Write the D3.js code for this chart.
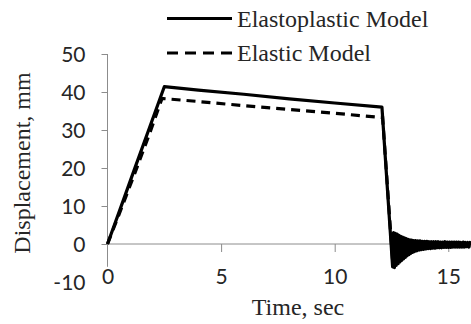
<!DOCTYPE html>
<html><head><meta charset="utf-8">
<script src="https://cdn.jsdelivr.net/npm/d3@7"></script>
<style>
html,body{margin:0;padding:0;background:#fff;}
svg{display:block;}
</style></head>
<body>
<svg id="chart" width="471" height="324"></svg>
<script>
// Elastoplastic Model (time s, displacement mm)
const elastoplasticT = [0, 0.6, 1.2, 1.8, 2.5, 4, 6, 8, 10, 12.08,
  12.55, 12.59, 12.63, 12.67, 12.71, 12.75, 12.79, 12.83, 12.87, 12.91, 12.95, 12.99, 13.03, 13.07, 13.11, 13.15, 13.19, 13.23, 13.27, 13.31, 13.35, 13.39, 13.43, 13.47, 13.51,
  13.56, 13.61, 13.66, 13.71, 13.76, 13.81, 13.86, 13.91, 13.96, 14.01, 14.06, 14.11, 14.16, 14.21, 14.26, 14.31, 14.36, 14.41, 14.46, 14.51,
  14.56, 14.61, 14.66, 14.71, 14.76, 14.81, 14.86, 14.91, 14.96, 15.01, 15.06, 15.11, 15.16, 15.21, 15.26, 15.31, 15.36, 15.41, 15.46, 15.51,
  15.56, 15.61, 15.66, 15.71, 15.76, 15.81, 15.86, 15.91, 15.96, 16.0];
const elastoplasticD = [0, 9.9, 19.9, 29.8, 41.4, 40.5, 39.4, 38.2, 37.1, 36.0,
  -6.0, 3.0, -6.2, 2.8, -5.6, 2.6, -5.2, 2.3, -4.7, 2.0, -4.3, 1.8, -3.9, 1.6, -3.5, 1.4, -3.1, 1.2, -2.8, 1.1, -2.5, 1.0, -2.2, 0.9, -2.0,
  0.9, -1.8, 0.8, -1.6, 0.8, -1.5, 0.7, -1.4, 0.7, -1.3, 0.7, -1.2, 0.6, -1.2, 0.6, -1.1, 0.6, -1.1, 0.6, -1.0,
  0.6, -1.0, 0.5, -1.0, 0.5, -0.9, 0.6, -0.9, 0.5, -0.9, 0.5, -0.9, 0.5, -0.8, 0.5, -0.8, 0.5, -0.8, 0.5, -0.8,
  0.4, -0.8, 0.5, -0.8, 0.4, -0.7, 0.4, -0.8, 0.4, -0.3];
// Elastic Model
const elasticT = [0, 0.6, 1.2, 1.8, 2.4, 4, 6, 8, 10, 11.85, 12.11, 12.55, 12.7, 12.85, 13.0, 13.2, 13.5];
const elasticD = [0, 9.2, 18.6, 28.2, 38.3, 37.5, 36.4, 35.4, 34.4, 33.4, 33.3, -4.5, 1.5, -2.5, 0.8, -1.0, 0.0];

const xTicks = [0, 5, 10, 15];
const yTicks = [-10, 0, 10, 20, 30, 40, 50];
const legendLabels = ["Elastoplastic Model", "Elastic Model"];

const svg = d3.select("#chart");
const x = d3.scaleLinear().domain([0, 16]).range([107.5, 471]);
const y = d3.scaleLinear().domain([-10, 50]).range([282, 54]);

const axisColor = "#8c8c8c";
const textColor = "#262626";
const numFont = "Lato, 'Open Sans', sans-serif";
const serif = "'Liberation Serif', 'Times New Roman', serif";

// y axis
const yAxis = svg.append("g").attr("transform", `translate(${x(0)},0)`)
  .call(d3.axisLeft(y).tickValues(yTicks).tickSize(6).tickSizeOuter(0).tickPadding(16).tickFormat(d => String(d)));
yAxis.select(".domain").remove();
yAxis.selectAll(".tick line").attr("stroke", axisColor).filter(d => d === -10).remove();
yAxis.selectAll(".tick text").attr("font-family", numFont).attr("font-size", 21).attr("fill", textColor).attr("dy", "0.36em");
svg.append("line").attr("x1", x(0)).attr("x2", x(0)).attr("y1", y(50)).attr("y2", y(-6))
  .attr("stroke", axisColor).attr("stroke-width", 1);

// x axis at y=0
const xAxis = svg.append("g").attr("transform", `translate(0,${y(0)})`)
  .call(d3.axisBottom(x).tickValues(xTicks).tickSize(8).tickSizeOuter(0).tickFormat(d => String(d)));
xAxis.select(".domain").remove();
xAxis.selectAll(".tick line").attr("stroke", axisColor).filter(d => d === 0).remove();
xAxis.selectAll(".tick text").attr("font-family", numFont).attr("font-size", 21).attr("fill", textColor)
  .attr("y", 40).attr("dy", 0);
svg.append("line").attr("x1", x(0)).attr("x2", x(16)).attr("y1", y(0)).attr("y2", y(0))
  .attr("stroke", axisColor).attr("stroke-width", 1);

// lines
const line = d3.line().x(d => x(d[0])).y(d => y(d[1]));
const elasticData = elasticT.map((t, i) => [t, elasticD[i]]);
const epData = elastoplasticT.map((t, i) => [t, elastoplasticD[i]]);
svg.append("path").datum(elasticData).attr("d", line).attr("fill", "none")
  .attr("stroke", "#000").attr("stroke-width", 3.2).attr("stroke-dasharray", "9,6");
svg.append("path").datum(epData).attr("d", line).attr("fill", "none")
  .attr("stroke", "#000").attr("stroke-width", 3.2).attr("stroke-linejoin", "round");

// axis titles
svg.append("text").attr("transform", `translate(30,${163}) rotate(-90)`).attr("text-anchor", "middle")
  .attr("font-family", serif).attr("font-size", 24).attr("fill", textColor)
  .text("Displacement, mm");
svg.append("text").attr("x", 298).attr("y", 315).attr("text-anchor", "middle")
  .attr("font-family", serif).attr("font-size", 24).attr("fill", textColor)
  .text("Time, sec");

// legend
const leg = svg.append("g");
[[18.5, null, 27], [53, "11,7", 61]].forEach((r, i) => {
  const l = leg.append("line").attr("x1", 167).attr("x2", 232).attr("y1", r[0]).attr("y2", r[0])
    .attr("stroke", "#000").attr("stroke-width", 3);
  if (r[1]) l.attr("stroke-dasharray", r[1]);
  leg.append("text").attr("x", 237).attr("y", r[2])
    .attr("font-family", serif).attr("font-size", 24).attr("fill", textColor)
    .text(legendLabels[i]);
});
</script>
</body></html>
